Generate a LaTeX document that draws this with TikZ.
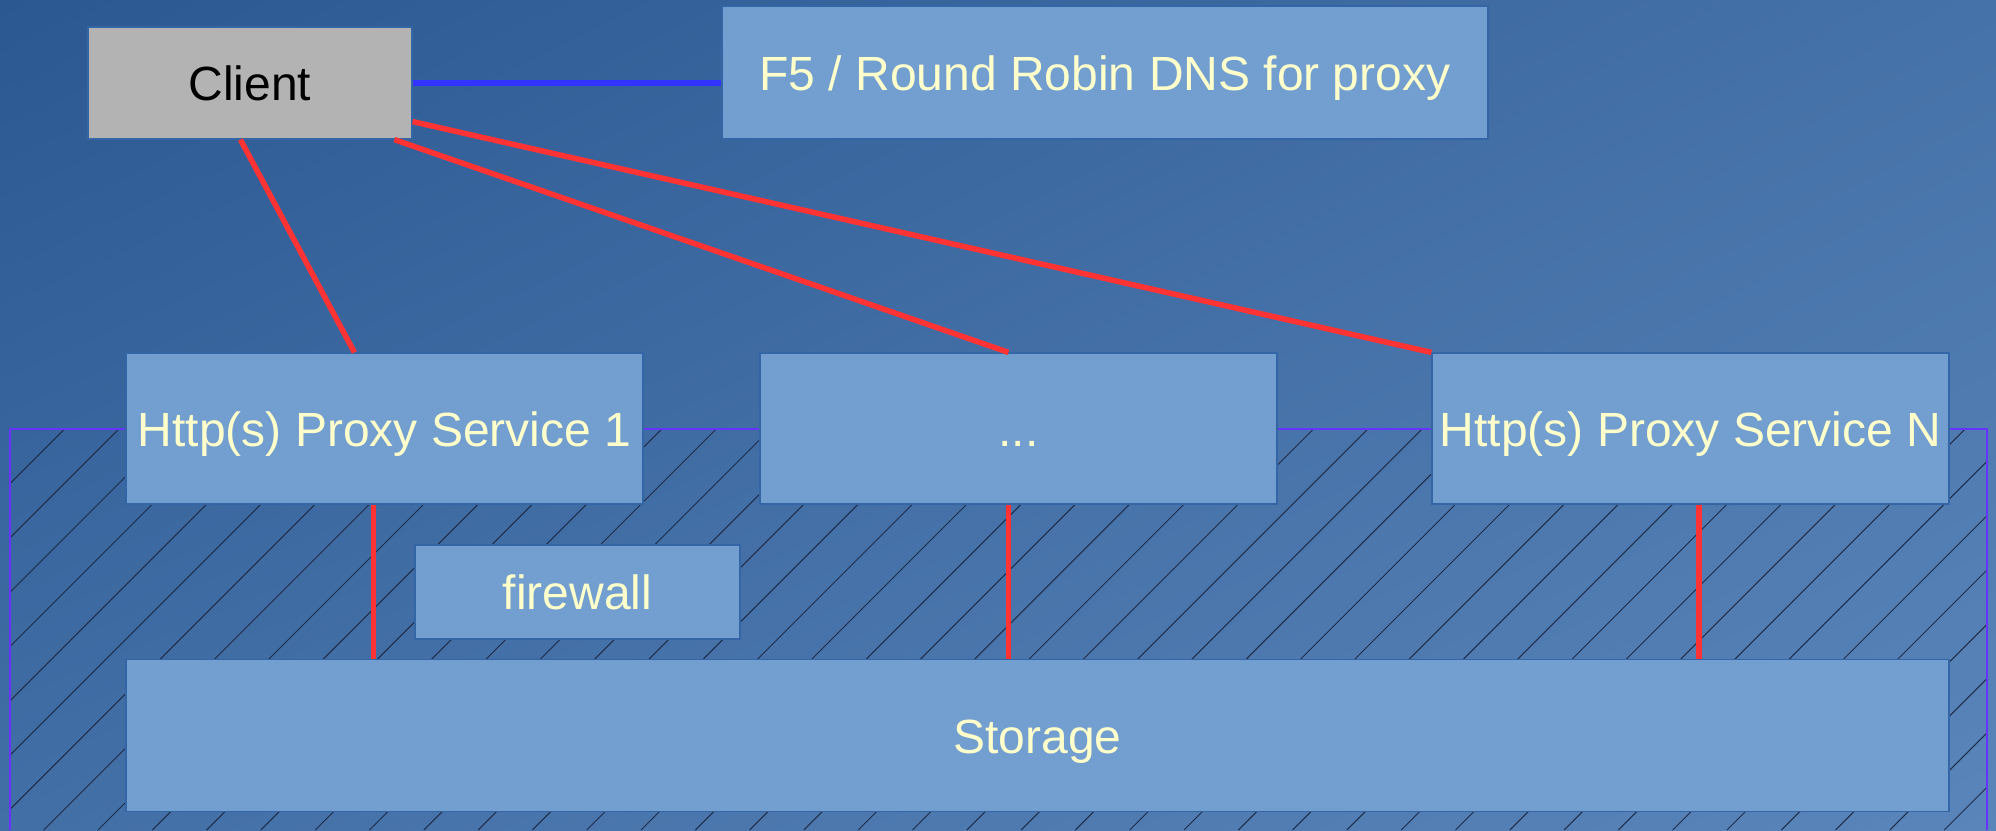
\documentclass[tikz,border=0pt]{standalone}
\usepackage{fontspec}
\setmainfont{Liberation Sans}
\usetikzlibrary{shadings}
\definecolor{bgTL}{HTML}{2C5892}
\definecolor{bgTR}{HTML}{4572A8}
\definecolor{bgBL}{HTML}{426FA6}
\definecolor{bgBR}{HTML}{5A85BA}
\definecolor{boxfill}{HTML}{729FCF}
\definecolor{boxline}{HTML}{3465A4}
\definecolor{boxtext}{HTML}{FFFFCC}
\definecolor{clientfill}{HTML}{B3B3B3}
\definecolor{linkred}{HTML}{FF3333}
\definecolor{linkblue}{HTML}{3333FF}
\definecolor{zoneline}{HTML}{6633FF}
\definecolor{hatchcol}{HTML}{1E2D4A}
\begin{document}
\begin{tikzpicture}[x=1pt,y=-1pt,
  box/.style={draw=boxline, line width=1.2pt, fill=boxfill, text=boxtext,
    inner sep=0pt, font=\fontsize{48}{56}\selectfont, text height=35pt, text depth=0pt},
  clientbox/.style={box, fill=clientfill, text=black},
  redlink/.style={draw=linkred, line width=5.5pt},
  bluelink/.style={draw=linkblue, line width=5.5pt}]
\useasboundingbox (0,0) rectangle (1996,830);
\shade[upper left=bgTL, upper right=bgTR, lower left=bgBL, lower right=bgBR] (0,0) rectangle (1996,830);
% hatched zone
\begin{scope}
  \clip (10,429) rectangle (1987,830);
  \foreach \k in {-19,...,27} {
    \pgfmathsetmacro{\c}{1416.7+54.3*\k}
    \draw[hatchcol, line width=1pt] (\c-830,830) -- (\c-429,429);
  }
\end{scope}
\draw[zoneline, line width=1.6pt] (10,830) -- (10,429) -- (1987,429) -- (1987,830);
% nodes
\node[clientbox, minimum width=324pt, minimum height=112pt] (client) at (250,83) {Client};
\node[box, minimum width=766pt, minimum height=133pt] (f5) at (1105,72.5) {F5 / Round Robin DNS for proxy};
\node[box, minimum width=517pt, minimum height=151pt] (p1) at (384.5,428.5) {Http(s) Proxy Service 1};
\node[box, minimum width=517pt, minimum height=151pt] (pd) at (1018.5,428.5) {...};
\node[box, minimum width=517pt, minimum height=151pt] (pN) at (1690.5,428.5) {Http(s) Proxy Service N};
\node[box, minimum width=325pt, minimum height=94pt] (fw) at (577.5,592) {firewall};
\node[box, minimum width=1823pt, minimum height=152pt] (storage) at (1037.5,735.5) {Storage};
% connectors
\draw[bluelink] (client.east) -- (client.east -| f5.west);
\draw[redlink] ([xshift=153pt]client.south west) -- ([xshift=229pt]p1.north west);
\draw[redlink] ([xshift=307pt]client.south west) -- ([xshift=-10pt]pd.north);
\draw[redlink] ([yshift=18pt]client.south east) -- (pN.north west);
\draw[redlink] ([xshift=248pt]p1.south west) -- ([xshift=248pt]p1.south west |- storage.north);
\draw[redlink] ([xshift=-10pt]pd.south) -- ([xshift=-10pt]pd.south |- storage.north);
\draw[redlink] ([xshift=8.5pt]pN.south) -- ([xshift=8.5pt]pN.south |- storage.north);
\end{tikzpicture}
\end{document}
